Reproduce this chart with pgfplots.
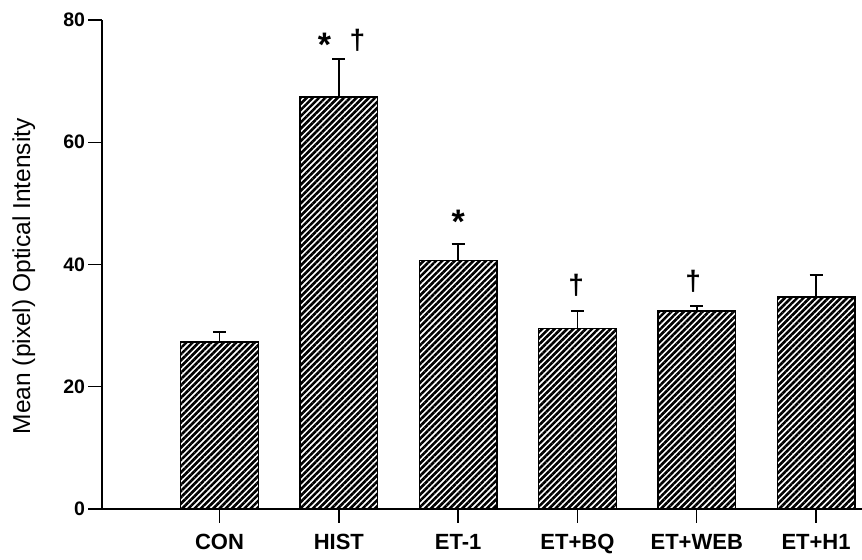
\documentclass[border=0pt]{standalone}
\usepackage{fontspec}
\setmainfont{Liberation Sans}
\usepackage{pgfplots}
\pgfplotsset{compat=1.18}
\usetikzlibrary{patterns.meta}
\begin{document}
\begin{tikzpicture}
\useasboundingbox (-102bp,-51bp) rectangle (760bp,509bp);
\begin{axis}[
  at={(0,0)}, anchor=south west,
  scale only axis, width=760bp, height=489bp,
  xmin=-0.985, xmax=5.385, ymin=0, ymax=80,
  axis lines*=left,
  axis line style={line width=1.4bp},
  xtick={0,1,2,3,4,5},
  xticklabels={CON,HIST,ET-1,ET+BQ,ET+WEB,ET+H1},
  ytick={0,20,40,60,80},
  tick align=outside, major tick length=13.5bp,
  tick style={black, line width=1.4bp},
  /pgf/number format/assume math mode=true,
  yticklabel style={font=\bfseries\fontsize{19.5bp}{22bp}\selectfont},
  xticklabel style={font=\bfseries\fontsize{22bp}{26bp}\selectfont, yshift=-8bp},
  ylabel={Mean (pixel) Optical Intensity},
  ylabel style={font=\fontsize{24.5bp}{28bp}\selectfont, at={(axis description cs:-0.103,0.476)}, anchor=center, rotate=0},
  clip=false,
]
\addplot+[ybar, bar width=0.65, draw=black, line width=1.3bp,
  pattern={Lines[angle=45, distance=4.4bp, line width=2.6bp]}, pattern color=black,
  mark=none,
  error bars/.cd, y dir=plus, y explicit,
  error bar style={line width=1.6bp, black},
  error mark options={line width=1.6bp, black, mark size=6.5bp, rotate=90}]
  coordinates {
  (0,27.3) +- (0,1.7)
  (1,67.4) +- (0,6.2)
  (2,40.6) +- (0,2.8)
  (3,29.5) +- (0,2.9)
  (4,32.4) +- (0,0.8)
  (5,34.7) +- (0,3.6)
  };
\node[font=\bfseries\fontsize{34bp}{36bp}\selectfont, anchor=center, yshift=-7bp] at (axis cs:0.88,77.06) {*};
\node[font=\bfseries\fontsize{28bp}{30bp}\selectfont, anchor=center] at (axis cs:1.156,76.7) {†};
\node[font=\bfseries\fontsize{34bp}{36bp}\selectfont, anchor=center, yshift=-7bp] at (axis cs:2.0,48.1) {*};
\node[font=\bfseries\fontsize{28bp}{30bp}\selectfont, anchor=center] at (axis cs:2.99,36.6) {†};
\node[font=\bfseries\fontsize{28bp}{30bp}\selectfont, anchor=center] at (axis cs:3.97,37.3) {†};
\end{axis}
\end{tikzpicture}
\end{document}
